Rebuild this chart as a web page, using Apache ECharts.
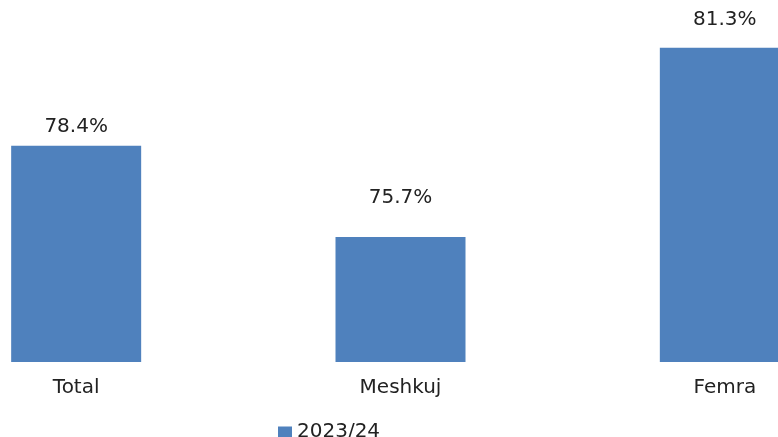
<!DOCTYPE html>
<html>
<head>
<meta charset="utf-8">
<script src="https://cdn.jsdelivr.net/npm/echarts@6/dist/echarts.min.js"></script>
<style>
  html, body { margin: 0; padding: 0; background: #fff; }
  #chart { width: 778px; height: 437px; }
</style>
</head>
<body>
<div id="chart"></div>
<script>
const categories = ['Total', 'Meshkuj', 'Femra']
const seriesName = '2023/24'
const values = [78.4, 75.7, 81.3]

const chart = echarts.init(document.getElementById('chart'))
const font = 'DejaVu Sans, Verdana, sans-serif'

// gap between bar top and its label differs per bar in the original
const labelGap = [9, 29, 18]

chart.setOption({
  animation: false,
  grid: {
    left: -86, width: 973, top: 24, bottom: 75,
    containLabel: false,
    outerBoundsMode: 'none',
  },
  legend: {
    data: [seriesName],
    left: 273,
    top: 417,
    itemWidth: 14,
    itemHeight: 11,
    itemGap: 10,
    icon: 'rect',
    textStyle: { fontFamily: font, fontSize: 20, color: '#222' },
  },
  xAxis: {
    type: 'category',
    data: categories,
    axisLine: { show: false },
    axisTick: { show: false },
    axisLabel: { fontFamily: font, fontSize: 20, color: '#222', margin: 16 },
  },
  yAxis: {
    type: 'value',
    min: 72,
    max: 82,
    show: false,
    splitLine: { show: false },
  },
  series: [
    {
      name: seriesName,
      type: 'bar',
      data: values.map((v, i) => ({ value: v, label: { distance: labelGap[i] } })),
      barWidth: 130,
      itemStyle: { color: '#4f81bd' },
      label: {
        show: true,
        position: 'top',
        formatter: (p) => p.value.toFixed(1) + '%',
        fontFamily: font,
        fontSize: 20,
        color: '#222',
      },
    },
  ],
})
</script>
</body>
</html>
